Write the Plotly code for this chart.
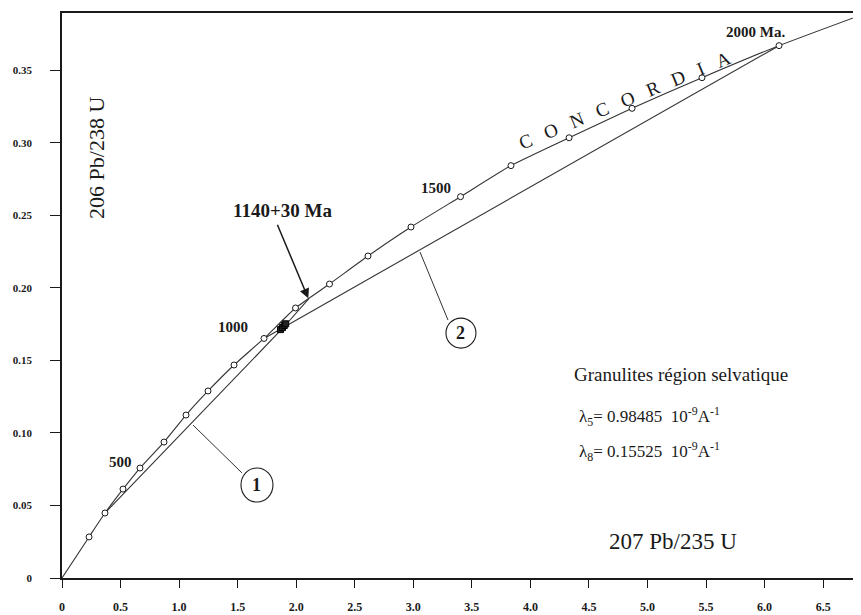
import plotly.graph_objects as go

# --- data ---
concordia_x = [0, 0.231, 0.367, 0.521, 0.666, 0.871, 1.059, 1.247, 1.469, 1.725, 1.994,
               2.284, 2.613, 2.980, 3.403, 3.834, 4.330, 4.868, 5.465, 6.123, 6.823]
concordia_y = [0, 0.0283, 0.0448, 0.0613, 0.0758, 0.0937, 0.1123, 0.1289, 0.1468, 0.1651, 0.1861,
               0.2026, 0.2219, 0.2419, 0.2628, 0.2842, 0.3034, 0.3237, 0.3448, 0.3669, 0.3880]
ages_ma = [None, 200, 300, 400, 500, 600, 700, 800, 900, 1000, 1100,
           1200, 1300, 1400, 1500, 1600, 1700, 1800, 1900, 2000, None]

discordia1_x = [0.367, 1.887, 2.108]
discordia1_y = [0.0448, 0.1723, 0.1925]
discordia2_x = [1.725, 6.123]
discordia2_y = [0.1651, 0.3669]

samples_x = [1.866, 1.883, 1.898, 1.910]
samples_y = [0.1712, 0.1726, 0.1740, 0.1752]

x_tickvals = [0, 0.5, 1.0, 1.5, 2.0, 2.5, 3.0, 3.5, 4.0, 4.5, 5.0, 5.5, 6.0, 6.5]
x_ticktext = ["0", "0.5", "1.0", "1.5", "2.0", "2.5", "3.0", "3.5", "4.0", "4.5", "5.0", "5.5", "6.0", "6.5"]
y_tickvals = [0, 0.05, 0.10, 0.15, 0.20, 0.25, 0.30, 0.35]
y_ticktext = ["0", "0.05", "0.10", "0.15", "0.20", "0.25", "0.30", "0.35"]

SERIF = "Liberation Serif, Times New Roman, serif"
INK = "#1a1a1a"
LINE = "#333333"
NB = "\u00a0\u00a0\u00a0"

fig = go.Figure()

# concordia curve
fig.add_trace(go.Scatter(x=concordia_x, y=concordia_y, mode="lines",
                         line=dict(color=LINE, width=1.1, shape="spline", smoothing=0.5),
                         hoverinfo="skip", showlegend=False))
# discordia lines
fig.add_trace(go.Scatter(x=discordia1_x, y=discordia1_y, mode="lines",
                         line=dict(color=LINE, width=1.1), showlegend=False))
fig.add_trace(go.Scatter(x=discordia2_x, y=discordia2_y, mode="lines",
                         line=dict(color=LINE, width=1.1), showlegend=False))
# age markers on the concordia
mk_x = [x for x, a in zip(concordia_x, ages_ma) if a is not None]
mk_y = [y for y, a in zip(concordia_y, ages_ma) if a is not None]
mk_t = [a for a in ages_ma if a is not None]
fig.add_trace(go.Scatter(x=mk_x, y=mk_y, mode="markers", text=mk_t,
                         marker=dict(symbol="circle", size=6, color="white",
                                     line=dict(color=INK, width=1)),
                         showlegend=False))
# analysed samples cluster
fig.add_trace(go.Scatter(x=samples_x, y=samples_y, mode="markers",
                         marker=dict(symbol="square", size=6, color="#222",
                                     line=dict(color="#000", width=1)),
                         showlegend=False))

annotations = []
def age_label(idx, text, dx, dy):
    annotations.append(dict(x=concordia_x[idx], y=concordia_y[idx], xref="x", yref="y",
                            text=text, showarrow=False, xshift=dx, yshift=dy,
                            font=dict(family=SERIF, size=15, color=INK, weight="bold")))
age_label(4, "500", -19, 6)
age_label(9, "1000", -31, 11)
age_label(14, "1500", -25, 9)
age_label(19, "2000 Ma.", -24, 14)

annotations += [
    dict(x=4.800, y=0.3293, xref="x", yref="y",
         text=NB.join(list("CONCORDIA")),
         showarrow=False, textangle=-22.5, font=dict(family=SERIF, size=19, color=INK)),
    dict(x=1.887, y=0.2536, xref="x", yref="y", text="1140+30 Ma", showarrow=False,
         font=dict(family=SERIF, size=19, color=INK, weight="bold")),
    dict(x=2.103, y=0.1928, xref="x", yref="y", ax=1.834, ay=0.2445, axref="x", ayref="y",
         text="", showarrow=True, arrowhead=2, arrowsize=1.3, arrowwidth=1.5, arrowcolor=INK),
    dict(x=1.665, y=0.0641, xref="x", yref="y", text="1", showarrow=False,
         font=dict(family=SERIF, size=18, color=INK, weight="bold")),
    dict(x=3.407, y=0.1688, xref="x", yref="y", text="2", showarrow=False,
         font=dict(family=SERIF, size=18, color=INK, weight="bold")),
    dict(x=4.355, y=0.1400, xref="x", yref="y", text="Granulites région selvatique",
         showarrow=False, xanchor="left", font=dict(family=SERIF, size=19, color=INK)),
    dict(x=4.40, y=0.1110, xref="x", yref="y",
         text="λ<sub>5</sub>= 0.98485  10<sup>-9</sup>A<sup>-1</sup>",
         showarrow=False, xanchor="left", font=dict(family=SERIF, size=17, color=INK)),
    dict(x=4.40, y=0.0875, xref="x", yref="y",
         text="λ<sub>8</sub>= 0.15525  10<sup>-9</sup>A<sup>-1</sup>",
         showarrow=False, xanchor="left", font=dict(family=SERIF, size=17, color=INK)),
    dict(x=5.218, y=0.0255, xref="x", yref="y", text="207 Pb/235 U", showarrow=False,
         font=dict(family=SERIF, size=23, color=INK)),
    dict(x=0.299, y=0.2895, xref="x", yref="y", text="206 Pb/238 U", showarrow=False,
         textangle=-90, font=dict(family=SERIF, size=22, color=INK)),
]

shapes = [
    dict(type="circle", xref="x", yref="y", xsizemode="pixel", ysizemode="pixel",
         xanchor=1.665, yanchor=0.0641, x0=-16, x1=16, y0=-17, y1=17,
         line=dict(color=INK, width=1.1)),
    dict(type="circle", xref="x", yref="y", xsizemode="pixel", ysizemode="pixel",
         xanchor=3.407, yanchor=0.1688, x0=-15, x1=15, y0=-15, y1=15,
         line=dict(color=INK, width=1.1)),
    dict(type="line", xref="x", yref="y", x0=1.119, y0=0.1054, x1=1.537, y1=0.0724,
         line=dict(color=LINE, width=1)),
    dict(type="line", xref="x", yref="y", x0=3.057, y0=0.2247, x1=3.296, y1=0.1778,
         line=dict(color=LINE, width=1)),
]

# the page body adds an 8 px margin, so the figure is 8 px smaller on each side
fig.update_layout(
    width=853, height=607,
    margin=dict(l=54, r=0, t=5, b=37, autoexpand=False),
    paper_bgcolor="white", plot_bgcolor="white",
    showlegend=False,
    annotations=annotations, shapes=shapes,
    xaxis=dict(range=[0, 6.823], tickvals=x_tickvals, ticktext=x_ticktext,
               automargin=False,
               showgrid=False, zeroline=False, showline=True, linecolor=INK, linewidth=1.5,
               mirror=True, ticks="outside", ticklen=8, tickwidth=1, tickcolor=INK,
               ticklabelstandoff=9,
               tickfont=dict(family=SERIF, size=12, color=INK, weight="bold")),
    yaxis=dict(range=[0, 0.3894], tickvals=y_tickvals, ticktext=y_ticktext,
               automargin=False,
               showgrid=False, zeroline=False, showline=True, linecolor=INK, linewidth=1.5,
               ticks="outside", ticklen=10, tickwidth=1, tickcolor=INK,
               ticklabelstandoff=16,
               tickfont=dict(family=SERIF, size=11, color=INK, weight="bold")),
)

fig.write_html("out.html")
